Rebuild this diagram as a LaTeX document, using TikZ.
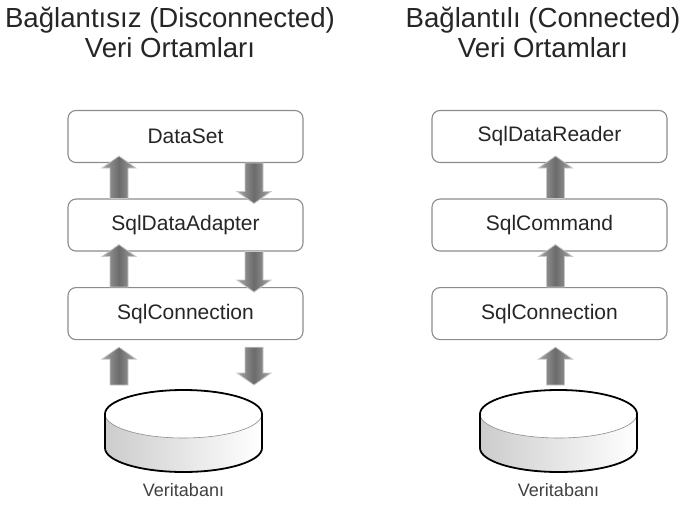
\documentclass[tikz,border=0pt]{standalone}
\usepackage{fontspec}
\setmainfont{Liberation Sans}
\usetikzlibrary{calc}
\usetikzlibrary{positioning}
\tikzstyle{layer}=[draw=black!45, line width=1.1pt, rounded corners=8pt, fill=white,
  minimum width=235pt, minimum height=52pt, inner sep=0pt,
  font=\fontsize{21}{25}\selectfont, text=black!85]
\tikzstyle{title}=[align=center, anchor=north, inner sep=0pt,
  font=\fontsize{27.6}{30}\selectfont, text=black!85]
\tikzstyle{dblabel}=[font=\fontsize{18}{21}\selectfont, text=black!75]
\tikzstyle{flow}=[draw=black!22, line width=0.8pt, left color=black!35,
  right color=black!35, middle color=black!58]
\tikzstyle{dbside}=[left color=black!20, right color=white]
\tikzstyle{dbedge}=[draw=black, line width=1.8pt]
\tikzstyle{dbtop}=[draw=black!45, line width=0.6pt, fill=white]
\newcommand{\lnode}[2]{node (l#1) [layer] {#2}}
\newcommand{\rnode}[2]{node (r#1) [layer] {#2}}
\newcommand{\flow}[2]{\path[flow] let \p1=(#1), \p2=(#2),
  \n2={\y2-12pt*sign(\y2-\y1)} in
  (\x1-9pt,\y1) -- (\x1-9pt,\n2) -- (\x1-17pt,\n2) -- (\x1,\y2)
  -- (\x1+17pt,\n2) -- (\x1+9pt,\n2) -- (\x1+9pt,\y1) -- cycle;}
\newcommand{\database}[1]{%
  \path[dbside] ($(#1)+(-78.5,24)$) -- ++(0,34)
    arc[start angle=180, end angle=360, x radius=78.5pt, y radius=24pt]
    -- ++(0,-34) -- cycle;
  \draw[dbtop] ($(#1)+(0,24)$) ellipse [x radius=78.5pt, y radius=24pt];
  \draw[dbedge] ($(#1)+(-78.5,24)$) -- ++(0,34)
    arc[start angle=180, end angle=360, x radius=78.5pt, y radius=24pt]
    -- ++(0,-34)
    arc[start angle=0, end angle=180, x radius=78.5pt, y radius=24pt];}

\begin{document}
\begin{tikzpicture}[x=1pt,y=-1pt]
    \useasboundingbox (0,0) rectangle (683,505);

    % Draw titles
    \node[title] (t1) at (170,6.7) {Bağlantısız (Disconnected)\\Veri Ortamları};
    \node[title] (t2) at (543,6.7) {Bağlantılı (Connected)\\Veri Ortamları};

    % Draw disconnected stack
    \path (185.5,136.5) \lnode{1}{DataSet};
    \path (l1.south)+(0,62) \lnode{2}{SqlDataAdapter};
    \path (l2.south)+(0,62) \lnode{3}{SqlConnection};
    \coordinate (d1) at (183.5,390);
    \database{d1}
    \node[dblabel] (v1) at ($(d1)+(0,100)$) {Veritabanı};

    % Draw connected stack
    \path (549.5,136.5) \rnode{1}{SqlDataReader};
    \path (r1.south)+(0,62) \rnode{2}{SqlCommand};
    \path (r2.south)+(0,62) \rnode{3}{SqlConnection};
    \coordinate (d2) at (558.5,390);
    \database{d2}
    \node[dblabel] (v2) at ($(d2)+(0,100)$) {Veritabanı};

    % Draw arrows between elements
    \flow{$(l2.north)+(-66.5,0)$}{$(l1.south)+(-66.5,-7)$}
    \flow{$(l1.south)+(68.5,0)$}{$(l2.north)+(68.5,5)$}
    \flow{$(l3.north)+(-66.5,0)$}{$(l2.south)+(-66.5,-7)$}
    \flow{$(l2.south)+(68.5,0)$}{$(l3.north)+(68.5,5)$}
    \flow{$(l3.south |- d1)+(-66.5,-5)$}{$(l3.south)+(-66.5,7)$}
    \flow{$(l3.south)+(68.5,7)$}{$(l3.south |- d1)+(68.5,-5)$}
    \flow{$(r2.north)+(6,0)$}{$(r1.south)+(6,-7)$}
    \flow{$(r3.north)+(6,0)$}{$(r2.south)+(6,-7)$}
    \flow{$(r3.south |- d2)+(6,-5)$}{$(r3.south)+(6,7)$}

  \end{tikzpicture}
\end{document}
